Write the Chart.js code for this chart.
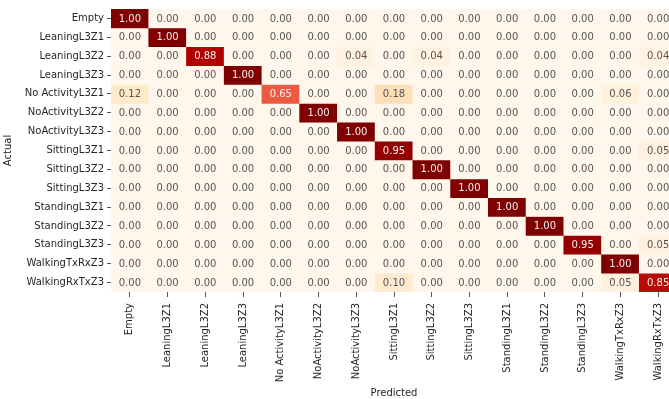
<!DOCTYPE html>
<html>
<head>
<meta charset="utf-8">
<script src="https://cdn.jsdelivr.net/npm/chart.js@4/dist/chart.umd.min.js"></script>
<style>
  html, body { margin: 0; padding: 0; background: #fff; overflow: hidden; }
  #wrap { width: 680px; height: 399px; position: relative; }
</style>
</head>
<body>
<div id="wrap"><canvas id="cm"></canvas></div>
<script>
// class names (rows = actual, columns = predicted)
const rowLabels = ['Empty', 'LeaningL3Z1', 'LeaningL3Z2', 'LeaningL3Z3', 'No ActivityL3Z1',
  'NoActivityL3Z2', 'NoActivityL3Z3', 'SittingL3Z1', 'SittingL3Z2', 'SittingL3Z3',
  'StandingL3Z1', 'StandingL3Z2', 'StandingL3Z3', 'WalkingTxRxZ3', 'WalkingRxTxZ3'];
const colLabels = rowLabels.slice();

// normalised confusion matrix, one array per actual class
const rowEmpty          = [1.00, 0, 0, 0, 0, 0, 0, 0, 0, 0, 0, 0, 0, 0, 0];
const rowLeaningZ1      = [0, 1.00, 0, 0, 0, 0, 0, 0, 0, 0, 0, 0, 0, 0, 0];
const rowLeaningZ2      = [0, 0, 0.88, 0, 0, 0, 0.04, 0, 0.04, 0, 0, 0, 0, 0, 0.04];
const rowLeaningZ3      = [0, 0, 0, 1.00, 0, 0, 0, 0, 0, 0, 0, 0, 0, 0, 0];
const rowNoActivityZ1   = [0.12, 0, 0, 0, 0.65, 0, 0, 0.18, 0, 0, 0, 0, 0, 0.06, 0];
const rowNoActivityZ2   = [0, 0, 0, 0, 0, 1.00, 0, 0, 0, 0, 0, 0, 0, 0, 0];
const rowNoActivityZ3   = [0, 0, 0, 0, 0, 0, 1.00, 0, 0, 0, 0, 0, 0, 0, 0];
const rowSittingZ1      = [0, 0, 0, 0, 0, 0, 0, 0.95, 0, 0, 0, 0, 0, 0, 0.05];
const rowSittingZ2      = [0, 0, 0, 0, 0, 0, 0, 0, 1.00, 0, 0, 0, 0, 0, 0];
const rowSittingZ3      = [0, 0, 0, 0, 0, 0, 0, 0, 0, 1.00, 0, 0, 0, 0, 0];
const rowStandingZ1     = [0, 0, 0, 0, 0, 0, 0, 0, 0, 0, 1.00, 0, 0, 0, 0];
const rowStandingZ2     = [0, 0, 0, 0, 0, 0, 0, 0, 0, 0, 0, 1.00, 0, 0, 0];
const rowStandingZ3     = [0, 0, 0, 0, 0, 0, 0, 0, 0, 0, 0, 0, 0.95, 0, 0.05];
const rowWalkingTxRx    = [0, 0, 0, 0, 0, 0, 0, 0, 0, 0, 0, 0, 0, 1.00, 0];
const rowWalkingRxTx    = [0, 0, 0, 0, 0, 0, 0, 0.10, 0, 0, 0, 0, 0, 0.05, 0.85];

const matrix = [rowEmpty, rowLeaningZ1, rowLeaningZ2, rowLeaningZ3, rowNoActivityZ1,
  rowNoActivityZ2, rowNoActivityZ3, rowSittingZ1, rowSittingZ2, rowSittingZ3,
  rowStandingZ1, rowStandingZ2, rowStandingZ3, rowWalkingTxRx, rowWalkingRxTx];

// OrRd colour map
const orRd = ['#fff7ec', '#fee8c8', '#fdd49e', '#fdbb84', '#fc8d59', '#ef6548', '#d7301f', '#b30000', '#7f0000'];
function hexRgb(h) { return [1, 3, 5].map(i => parseInt(h.slice(i, i + 2), 16)); }
function cmap(v) {
  const t = Math.max(0, Math.min(1, v)) * (orRd.length - 1);
  const i = Math.min(Math.floor(t), orRd.length - 2);
  const f = t - i;
  const a = hexRgb(orRd[i]), b = hexRgb(orRd[i + 1]);
  return a.map((x, k) => Math.round(x + (b[k] - x) * f));
}
function lum(rgb) {
  const c = rgb.map(x => { x /= 255; return x <= 0.03928 ? x / 12.92 : Math.pow((x + 0.055) / 1.055, 2.4); });
  return 0.2126 * c[0] + 0.7152 * c[1] + 0.0722 * c[2];
}
const rgbStr = c => `rgb(${c[0]},${c[1]},${c[2]})`;

const FONT = "'DejaVu Sans', sans-serif";

// one floating-bar dataset per actual class, spanning [row, row+1] on the y scale
const datasets = matrix.map((vals, r) => ({
  label: rowLabels[r],
  data: colLabels.map(() => [r, r + 1]),
  backgroundColor: vals.map(v => rgbStr(cmap(v))),
  borderWidth: 0,
  grouped: false,
  barPercentage: 1,
  categoryPercentage: 1
}));

const annotate = {
  id: 'annotate',
  afterDatasetsDraw(chart) {
    const { ctx, scales: { x, y } } = chart;
    ctx.save();
    ctx.font = '10px ' + FONT;
    ctx.textAlign = 'center';
    ctx.textBaseline = 'middle';
    matrix.forEach((vals, r) => {
      vals.forEach((v, c) => {
        const col = cmap(v);
        ctx.fillStyle = lum(col) <= 0.408 ? '#fbeeee' : '#555555';
        ctx.fillText(v.toFixed(2), x.getPixelForValue(c), y.getPixelForValue(r + 0.5) + 0.5);
      });
    });
    ctx.restore();
  }
};

new Chart(document.getElementById('cm'), {
  type: 'bar',
  data: { labels: colLabels, datasets },
  options: {
    responsive: true,
    maintainAspectRatio: false,
    animation: false,
    layout: { padding: { top: 5, right: 3, left: 0, bottom: 0 } },
    plugins: { legend: { display: false }, tooltip: { enabled: false } },
    scales: {
      x: {
        type: 'category',
        grid: { display: true, drawOnChartArea: false, offset: false, tickLength: 5, color: '#555' },
        border: { display: false },
        ticks: { maxRotation: 90, minRotation: 90, autoSkip: false, padding: 6, color: '#262626', font: { family: FONT, size: 10 } },
        title: { display: true, text: 'Predicted', color: '#262626', font: { family: FONT, size: 10 }, padding: { top: 2, bottom: 0 } },
        afterFit(s) { s.height = 107; }
      },
      y: {
        type: 'linear',
        min: 0,
        max: rowLabels.length,
        reverse: true,
        grid: { display: true, drawOnChartArea: false, tickLength: 4, color: '#555' },
        border: { display: false },
        afterBuildTicks(s) { s.ticks = rowLabels.map((_, i) => ({ value: i + 0.5 })); },
        ticks: {
          padding: 3,
          color: '#262626',
          font: { family: FONT, size: 10 },
          callback: v => rowLabels[Math.floor(v)]
        },
        title: { display: true, text: 'Actual', color: '#262626', font: { family: FONT, size: 10 }, padding: { top: 2, bottom: 2 } },
        afterFit(s) { s.width = 111; }
      }
    }
  },
  plugins: [annotate]
});
</script>
</body>
</html>
